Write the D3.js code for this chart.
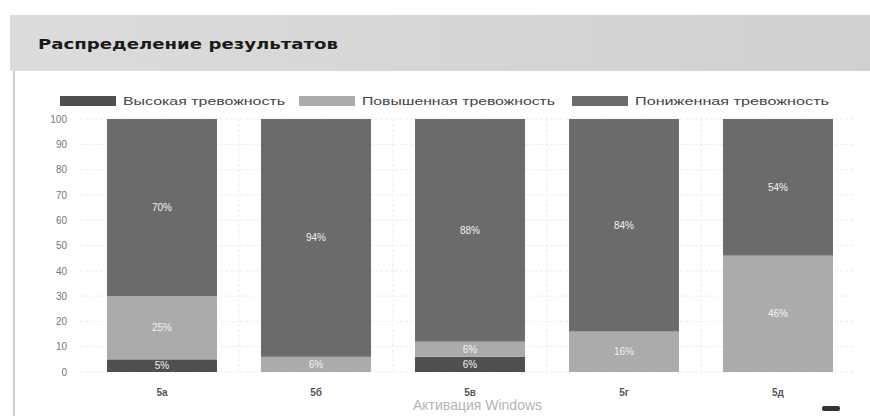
<!DOCTYPE html>
<html><head><meta charset="utf-8">
<script src="https://cdn.jsdelivr.net/npm/d3@7/dist/d3.min.js"></script>
<style>body{margin:0;background:#fff;}svg{display:block;font-family:"Liberation Sans",Arial,sans-serif;}</style>
</head><body><svg id="c" width="870" height="416"></svg>
<script>
const title = "Распределение результатов";
const categories = ["5а","5б","5в","5г","5д"];
const seriesNames = ["Высокая тревожность","Повышенная тревожность","Пониженная тревожность"];
const high = [5, 0, 6, 0, 0];
const elevated = [25, 6, 6, 16, 46];
const low = [70, 94, 88, 84, 54];
const yTicks = [0,10,20,30,40,50,60,70,80,90,100];
const colors = ["#505050","#ababab","#6b6b6b"];

const svg = d3.select("#c");
// title band
const grad = svg.append("defs").append("linearGradient").attr("id","g");
grad.append("stop").attr("offset","0").attr("stop-color","#dcdcdc");
grad.append("stop").attr("offset","1").attr("stop-color","#d0d0d0");
svg.append("rect").attr("x",10).attr("y",15).attr("width",860).attr("height",56).attr("fill","url(#g)");
svg.append("text").attr("x",38).attr("y",49).attr("font-size",13.5).attr("font-weight","bold")
  .attr("font-family","DejaVu Sans,Verdana,sans-serif").attr("fill","#1a1a1a")
  .attr("textLength",300).attr("lengthAdjust","spacingAndGlyphs").text(title);
svg.append("line").attr("x1",14).attr("x2",14).attr("y1",71).attr("y2",416).attr("stroke","#d0d0d0").attr("stroke-width",2);

const x = d3.scaleBand().domain(categories).range([85,855]).paddingInner(0.286).paddingOuter(0.143);
const y = d3.scaleLinear().domain([0,100]).range([372,119]);

// grid
const g = svg.append("g");
g.selectAll(".hg").data(yTicks).join("line").attr("x1",80).attr("x2",855)
  .attr("y1",d=>y(d)).attr("y2",d=>y(d)).attr("stroke","#ececec").attr("stroke-dasharray","3,2");
g.selectAll(".vg").data(categories.slice(1)).join("line")
  .attr("x1",d=>x(d)-x.step()*0.143).attr("x2",d=>x(d)-x.step()*0.143)
  .attr("y1",y(100)).attr("y2",y(0)).attr("stroke","#ececec").attr("stroke-dasharray","3,2");

// y axis
const ya = svg.append("g").attr("transform","translate(70,0)")
  .call(d3.axisLeft(y).tickValues(yTicks).tickSize(0).tickPadding(3));
ya.select(".domain").remove();
ya.selectAll("text").attr("font-size",10).attr("fill","#777").attr("font-family","Liberation Sans,Arial");

// x axis
const xa = svg.append("g").attr("transform","translate(0,386)")
  .call(d3.axisBottom(x).tickSize(0).tickPadding(3));
xa.select(".domain").remove();
xa.selectAll("text").attr("font-size",10).attr("font-weight","bold").attr("fill","#555").attr("font-family","Liberation Sans,Arial");

// stacked
const rows = categories.map((c,i)=>({cat:c, s0:high[i], s1:elevated[i], s2:low[i]}));
const stack = d3.stack().keys(["s0","s1","s2"])(rows);
stack.forEach((layer,k)=>{
  const lg = svg.append("g");
  lg.selectAll("rect").data(layer.filter(d=>d[1]-d[0]>0)).join("rect")
    .attr("x",d=>x(d.data.cat)).attr("width",x.bandwidth())
    .attr("y",d=>y(d[1])).attr("height",d=>y(d[0])-y(d[1])).attr("fill",colors[k]);
  lg.selectAll("text").data(layer.filter(d=>d[1]-d[0]>0)).join("text")
    .attr("x",d=>x(d.data.cat)+x.bandwidth()/2).attr("y",d=>(y(d[0])+y(d[1]))/2+3.5)
    .attr("text-anchor","middle").attr("font-size",10).attr("fill","#f2f2f2")
    .text(d=>(d[1]-d[0])+"%");
});

// legend
const legendX = [60, 299, 572];
const legendTextW = [162, 193, 194];
const lgd = svg.append("g");
seriesNames.forEach((n,i)=>{
  lgd.append("rect").attr("x",legendX[i]).attr("y",96).attr("width",56).attr("height",10).attr("fill",colors[i]);
  lgd.append("text").attr("x",legendX[i]+63).attr("y",105).attr("font-size",10.5).attr("fill","#444")
    .attr("textLength",legendTextW[i]).attr("lengthAdjust","spacingAndGlyphs").text(n);
});

// watermark
svg.append("text").attr("x",413).attr("y",410).attr("font-size",14).attr("fill","#b5b5b5").text("Активация Windows");
svg.append("rect").attr("x",822).attr("y",406).attr("width",18).attr("height",5).attr("rx",2).attr("fill","#333");
</script></body></html>
